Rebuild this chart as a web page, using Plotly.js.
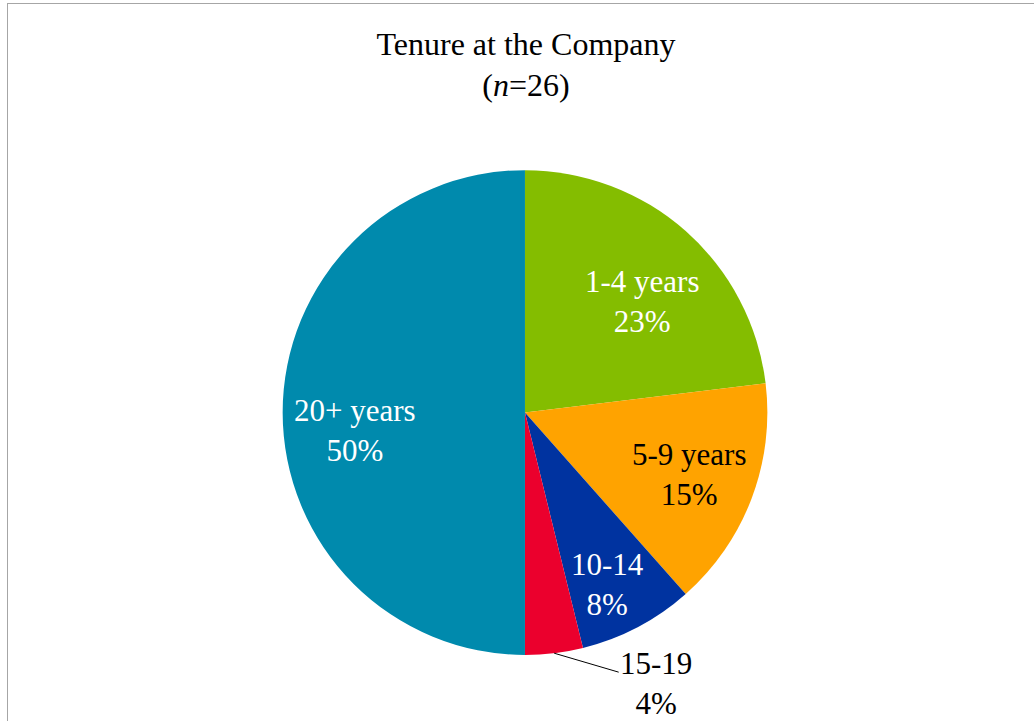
<!DOCTYPE html>
<html>
<head>
<meta charset="utf-8">
<script src="https://cdn.plot.ly/plotly-3.0.1.min.js"></script>
<style>
  html, body { margin: 0; padding: 0; background: #fff; overflow: hidden; }
  #frame { position: absolute; left: 7px; top: 3px; width: 1100px; height: 800px; border: 1px solid #a6a6a6; }
  #chart { position: absolute; left: 0; top: 0; width: 1034px; height: 721px; }
</style>
</head>
<body>
<div id="frame"></div>
<div id="chart"></div>
<script>
// Tenure groups and number of respondents (n = 26)
let tenureLabels = ['1-4 years', '5-9 years', '10-14', '15-19', '20+ years'];
let tenureCounts = [6, 4, 2, 1, 13];
let sliceColors = ['#84bd00', '#ffa300', '#0033a0', '#eb002d', '#008aad'];
let labelColors = ['#ffffff', '#000000', '#ffffff', '#000000', '#ffffff'];

// label placement (like Excel's best fit): share of the radius and a small angle nudge
let labelRadius = [0.665, 0.722, 0.786, 1.0, 0.704];
let labelShift = [5, 0, 2, 0, -6];
let outsideLabel = [false, false, false, true, false];

let W = 1034, H = 721;
let serif = 'Liberation Serif';
let pieDomain = { x: [0.2727, 0.7427], y: [0.0916, 0.764] };

let data = [{
  type: 'pie',
  labels: tenureLabels,
  values: tenureCounts,
  sort: false,
  direction: 'clockwise',
  rotation: 0,
  marker: { colors: sliceColors, line: { width: 0 } },
  textinfo: 'none',
  hoverinfo: 'label+value+percent',
  domain: pieDomain,
  showlegend: false
}];

// place the data labels from the slice angles
let total = tenureCounts.reduce((a, b) => a + b, 0);
let cx = (pieDomain.x[0] + pieDomain.x[1]) / 2;
let cy = (pieDomain.y[0] + pieDomain.y[1]) / 2;
let radius = Math.min((pieDomain.x[1] - pieDomain.x[0]) * W, (pieDomain.y[1] - pieDomain.y[0]) * H) / 2;

let annotations = [];
let cum = 0;
tenureCounts.forEach((v, i) => {
  let mid = (cum + v / 2) / total * 2 * Math.PI;
  cum += v;
  let pct = Math.round(v / total * 100) + '%';
  let text = tenureLabels[i] + '<br>' + pct;
  if (outsideLabel[i]) {
    annotations.push({
      x: cx + radius * Math.sin(mid) / W,
      y: cy + radius * Math.cos(mid) / H,
      xref: 'paper', yref: 'paper',
      text: text,
      showarrow: true, arrowhead: 0, arrowwidth: 1, arrowcolor: '#000',
      ax: 102, ay: 30,
      font: { family: serif, size: 31, color: labelColors[i] }
    });
  } else {
    let a = mid + labelShift[i] * Math.PI / 180;
    let r = radius * labelRadius[i];
    annotations.push({
      x: cx + r * Math.sin(a) / W,
      y: cy + r * Math.cos(a) / H,
      xref: 'paper', yref: 'paper',
      xanchor: 'center', yanchor: 'middle',
      text: text,
      showarrow: false,
      font: { family: serif, size: 31, color: labelColors[i] }
    });
  }
});

let layout = {
  width: W,
  height: H,
  margin: { l: 0, r: 0, t: 0, b: 0 },
  paper_bgcolor: 'rgba(0,0,0,0)',
  font: { family: serif, color: '#000' },
  title: {
    text: 'Tenure at the Company<br>(<i>n</i>=26)',
    font: { family: serif, size: 32, color: '#000' },
    x: 0.5087, xanchor: 'center',
    y: 0.924, yanchor: 'top'
  },
  annotations: annotations
};

Plotly.newPlot('chart', data, layout, { displayModeBar: false });
</script>
</body>
</html>
